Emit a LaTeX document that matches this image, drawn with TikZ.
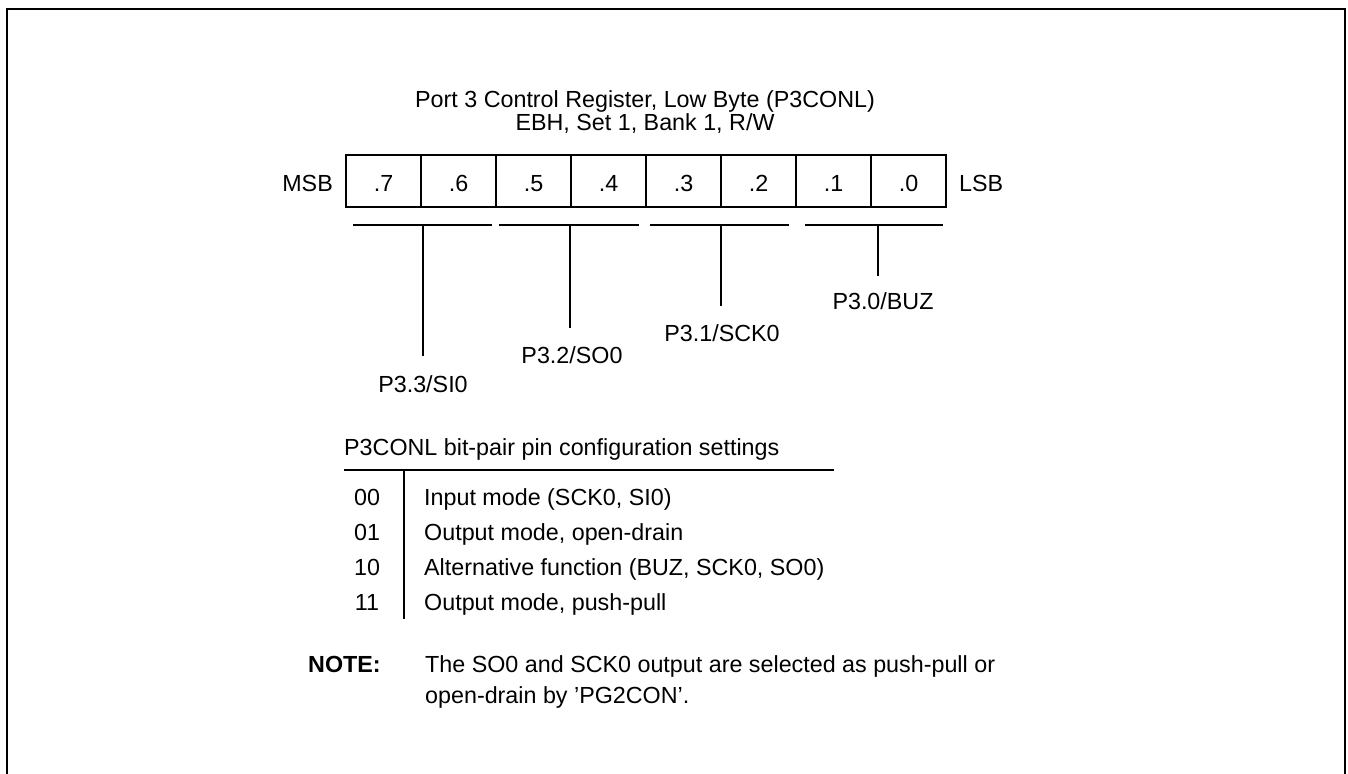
\documentclass[tikz,border=0pt]{standalone}
\usepackage{fontspec}
\setmainfont{Liberation Sans}
\begin{document}
\begin{tikzpicture}[x=1pt,y=-1pt,
  txt/.style={inner sep=0pt, font=\fontsize{23.3}{24}\selectfont},
  cell/.style={draw, line width=1.4pt, minimum width=75pt, minimum height=52pt, inner sep=0pt, anchor=center},
  ln/.style={line width=1.4pt},
  frame/.style={line width=2.2pt}]
\useasboundingbox (0,0) rectangle (1348,773);
% outer frame
\draw[frame] (7,774) -- (7,9) -- (1345,9);
\draw[line width=1.4pt] (1345,8) -- (1345,774);
% title
\node[txt, anchor=base] (t1) at (645,108) {Port 3 Control Register, Low Byte (P3CONL)};
\node[txt, anchor=base] (t2) at (645,130) {EBH, Set 1, Bank 1, R/W};
% register
\foreach \b [count=\i from 0] in {7,6,5,4,3,2,1,0}{
  \node[cell] (b\b) at ({383.5+75*\i},181) {};
  \node[txt, anchor=base] (lb\b) at ({383.5+75*\i},191) {.\b};
}
\node[txt, anchor=base east] (msb) at (333,191) {MSB};
\node[txt, anchor=base west] (lsb) at (959,191) {LSB};
% group bars
\coordinate (g1a) at (353,225); \coordinate (g1b) at (492,225);
\coordinate (g2a) at (499,225); \coordinate (g2b) at (639,225);
\coordinate (g3a) at (650,225); \coordinate (g3b) at (789,225);
\coordinate (g4a) at (805,225); \coordinate (g4b) at (943,225);
\draw[ln] (g1a) -- (g1b);
\draw[ln] (g2a) -- (g2b);
\draw[ln] (g3a) -- (g3b);
\draw[ln] (g4a) -- (g4b);
\coordinate (k1a) at (423,225); \coordinate (k1b) at (423,356);
\coordinate (k2a) at (570,225); \coordinate (k2b) at (570,328);
\coordinate (k3a) at (721,225); \coordinate (k3b) at (721,306);
\coordinate (k4a) at (878,225); \coordinate (k4b) at (878,276);
\draw[ln] (k1a) -- (k1b);
\draw[ln] (k2a) -- (k2b);
\draw[ln] (k3a) -- (k3b);
\draw[ln] (k4a) -- (k4b);
\node[txt, anchor=base] (p33) at (423,392) {P3.3/SI0};
\node[txt, anchor=base] (p32) at (572,363) {P3.2/SO0};
\node[txt, anchor=base] (p31) at (722,341) {P3.1/SCK0};
\node[txt, anchor=base] (p30) at (883,309) {P3.0/BUZ};
% table
\node[txt, anchor=base west] (tt) at (344,455) {P3CONL bit-pair pin configuration settings};
\coordinate (hl1) at (344,470); \coordinate (hl2) at (834,470);
\draw[ln] (hl1) -- (hl2);
\coordinate (vl1) at (404,470); \coordinate (vl2) at (404,619);
\draw[ln] (vl1) -- (vl2);
\node[txt, anchor=base] (c0) at (367,505) {00};
\node[txt, anchor=base] (c1) at (367,540) {01};
\node[txt, anchor=base] (c2) at (367,575) {10};
\node[txt, anchor=base] (c3) at (367,610) {11};
\node[txt, anchor=base west] (d0) at (424,505) {Input mode (SCK0, SI0)};
\node[txt, anchor=base west] (d1) at (424,540) {Output mode, open-drain};
\node[txt, anchor=base west] (d2) at (424,575) {Alternative function (BUZ, SCK0, SO0)};
\node[txt, anchor=base west] (d3) at (424,610) {Output mode, push-pull};
% note
\node[txt, anchor=base west, font=\fontsize{23.3}{24}\selectfont\bfseries] (note) at (308,672) {NOTE:};
\node[txt, anchor=base west] (n1) at (425,672) {The SO0 and SCK0 output are selected as push-pull or};
\node[txt, anchor=base west] (n2) at (425,703) {open-drain by 'PG2CON'.};
\end{tikzpicture}
\end{document}
